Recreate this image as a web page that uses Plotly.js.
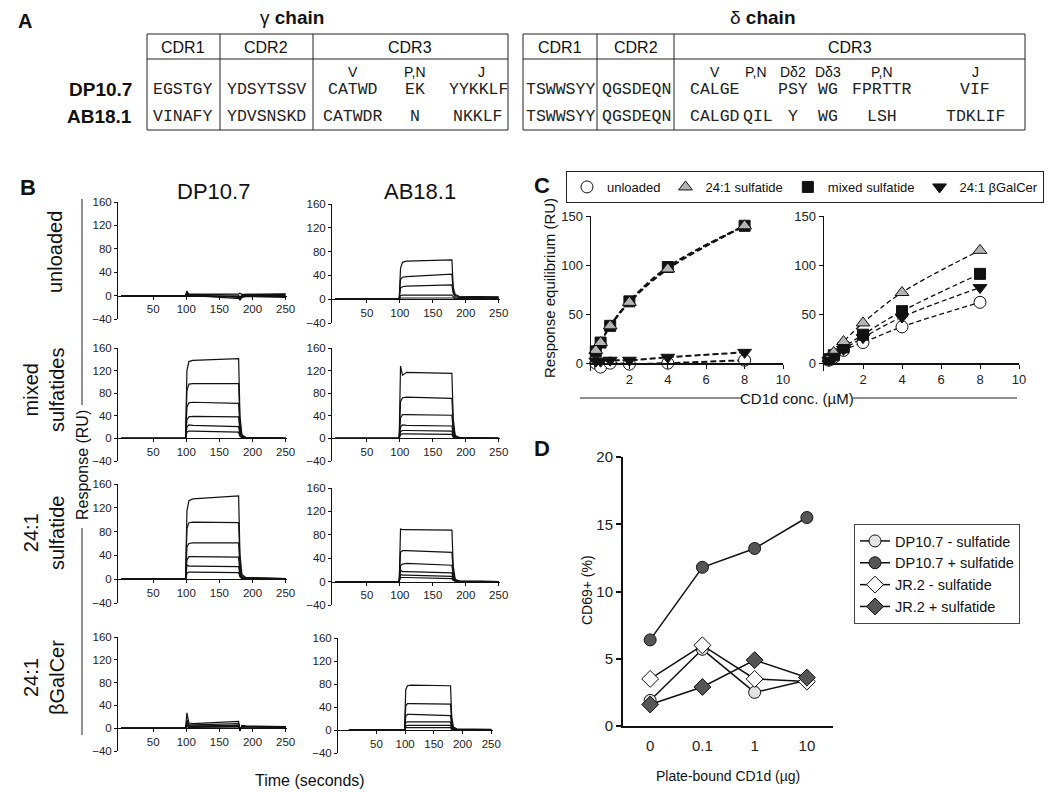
<!DOCTYPE html>
<html><head><meta charset="utf-8">
<script src="https://cdn.plot.ly/plotly-3.0.1.min.js"></script>
<style>html,body{margin:0;padding:0;background:#fff}#chart{width:1050px;height:793px}</style>
</head><body><div id="chart"></div>
<script>
// ---------------- DATA ----------------
// Panel A: CDR sequences
const gammaHeaders = ['CDR1', 'CDR2', 'CDR3'];
const gammaSub = ['V', 'P,N', 'J'];
const gammaDP = ['EGSTGY', 'YDSYTSSV', 'CATWD', 'EK', 'YYKKLF'];
const gammaAB = ['VINAFY', 'YDVSNSKD', 'CATWDR', 'N', 'NKKLF'];
const deltaHeaders = ['CDR1', 'CDR2', 'CDR3'];
const deltaSub = ['V', 'P,N', 'Dδ2', 'Dδ3', 'P,N', 'J'];
const deltaDP = ['TSWWSYY', 'QGSDEQN', 'CALGE', '', 'PSY', 'WG', 'FPRTTR', 'VIF'];
const deltaAB = ['TSWWSYY', 'QGSDEQN', 'CALGD', 'QIL', 'Y', 'WG', 'LSH', 'TDKLIF'];
const clones = ['DP10.7', 'AB18.1'];

// Panel B: sensorgrams (RU) sampled at bTime (s)
const bTime = [2, 99, 101, 104, 110, 179, 181, 184, 190, 250];
const dpUnloaded = [
  [0, 0, 8, 2, 2, 1, -6, -2, -1, -3],
  [0, 0, 5, 1, 1, -3, -8, -3, -2, -2],
  [0, 0, 3, 1, 0, -5, -5, 1, 2, 2],
  [0, 0, 2, 2, 2, 3, 4, 2, 2, 3],
  [0, 0, 1, 0, 0, -1, -2, 0, 0, 0]
];
const abUnloaded = [
  [0, 0, 52, 62, 64, 66, 20, 8, 5, 4],
  [0, 0, 33, 37, 38, 42, 14, 6, 4, 3],
  [0, 0, 19, 21, 22, 24, 9, 4, 3, 2],
  [0, 0, 6, 7, 7, 7, 4, 2, 1, 1],
  [0, 0, 2, 2, 2, 3, 2, 1, 1, 0]
];
const dpMixed = [
  [0, 0, 120, 136, 138, 141, 40, 6, 2, 0],
  [0, 0, 85, 96, 97, 97, 28, 4, 1, 0],
  [0, 0, 55, 63, 64, 62, 18, 3, 1, 0],
  [0, 0, 33, 38, 39, 38, 11, 2, 1, 0],
  [0, 0, 20, 24, 23, 21, 7, 2, 1, 0],
  [0, 0, 11, 13, 13, 11, 4, 1, 0, 0]
];
const abMixed = [
  [0, 0, 128, 112, 117, 115, 35, 5, 2, 0],
  [0, 0, 65, 72, 73, 71, 22, 3, 1, 0],
  [0, 0, 36, 42, 42, 41, 12, 2, 1, 0],
  [0, 0, 20, 24, 23, 22, 7, 1, 1, 0],
  [0, 0, 12, 14, 14, 13, 4, 1, 0, 0],
  [0, 0, 7, 8, 8, 7, 2, 1, 0, 0]
];
const dp241 = [
  [0, 0, 115, 132, 135, 140, 42, 8, 3, 1],
  [0, 0, 85, 95, 96, 95, 29, 5, 2, 1],
  [0, 0, 54, 60, 61, 61, 18, 3, 1, 0],
  [0, 0, 32, 38, 38, 37, 11, 2, 1, 0],
  [0, 0, 24, 22, 22, 21, 7, 2, 1, 0],
  [0, 0, 10, 12, 12, 11, 4, 1, 0, 0]
];
const ab241 = [
  [0, 0, 90, 89, 89, 88, 27, 4, 1, 0],
  [0, 0, 50, 53, 53, 50, 15, 3, 1, 0],
  [0, 0, 27, 30, 31, 28, 9, 2, 1, 0],
  [0, 0, 20, 17, 17, 15, 5, 1, 0, 0],
  [0, 0, 12, 11, 11, 9, 3, 1, 0, 0],
  [0, 0, 7, 7, 7, 5, 2, 1, 0, 0]
];
const dpGalCer = [
  [0, 0, 27, 9, 8, 12, -5, 5, 4, 3],
  [0, 0, 15, 6, 6, 8, -4, 4, 3, 3],
  [0, 0, 10, 4, 4, 5, -3, 3, 3, 2],
  [0, 0, 6, 3, 3, 3, -2, 2, 2, 1],
  [0, 0, 3, 1, 1, 1, 0, 1, 1, 0]
];
const abGalCer = [
  [0, 0, 70, 77, 78, 77, 24, 5, 2, 1],
  [0, 0, 42, 46, 46, 45, 14, 3, 1, 0],
  [0, 0, 24, 27, 27, 25, 8, 2, 1, 0],
  [0, 0, 13, 14, 14, 14, 4, 1, 0, 0],
  [0, 0, 7, 8, 8, 8, 3, 1, 0, 0],
  [0, 0, 4, 4, 4, 4, 1, 1, 0, 0]
];
const bColumns = ['DP10.7', 'AB18.1'];
const bRows = ['unloaded', 'mixed<br>sulfatides', '24:1<br>sulfatide', '24:1<br>βGalCer'];
const bXTicks = [50, 100, 150, 200, 250];
const bYTicks = [-40, 0, 40, 80, 120, 160];

// Panel C: equilibrium response (RU) vs CD1d conc (µM)
const cConc = [0.25, 0.5, 1, 2, 4, 8];
const cNames = ['unloaded', '24:1 sulfatide', 'mixed sulfatide', '24:1 βGalCer'];
const dpUnloadedEq = [0, -4, 0, -1, 0, 3];
const dp241Eq = [13, 21, 38, 62, 96, 140];
const dpMixedEq = [12, 21, 38, 63, 98, 140];
const dpGalCerEq = [2, 2, 3, 3, 6, 11];
const abUnloadedEq = [3, 6, 13, 21, 37, 62];
const ab241Eq = [5, 11, 22, 41, 72, 115];
const abMixedEq = [4, 8, 16, 29, 53, 91];
const abGalCerEq = [3, 7, 14, 26, 47, 77];
const cXTicks = [2, 4, 6, 8, 10];
const cYTicks = [0, 50, 100, 150];

// Panel D: CD69+ (%)
const dDoses = ['0', '0.1', '1', '10'];
const dNames = ['DP10.7 - sulfatide', 'DP10.7 + sulfatide', 'JR.2 - sulfatide', 'JR.2 + sulfatide'];
const dpMinus = [1.9, 5.7, 2.5, 3.4];
const dpPlus = [6.4, 11.8, 13.2, 15.5];
const jrMinus = [3.5, 6.0, 3.5, 3.3];
const jrPlus = [1.6, 2.9, 4.9, 3.6];
const dYTicks = [0, 5, 10, 15, 20];

// ---------------- LAYOUT HELPERS ----------------
const W = 1050, H = 793;
const SANS = 'Liberation Sans, Arial, sans-serif';
const MONO = 'Liberation Mono, Courier New, monospace';
const px = x => x / W;
const py = y => 1 - y / H;
const dX = (a, b) => [px(a), px(b)];
const dY = (top, bottom) => [py(bottom), py(top)];

const traces = [];
const layout = {
  width: W, height: H,
  margin: {l: 0, r: 0, t: 0, b: 0},
  paper_bgcolor: '#fff', plot_bgcolor: 'rgba(0,0,0,0)',
  showlegend: true,
  font: {family: SANS, color: '#111'},
  annotations: [], shapes: []
};
function ann(text, x, y, size, extra) {
  layout.annotations.push(Object.assign({
    text: text, x: px(x), y: py(y), xref: 'paper', yref: 'paper',
    showarrow: false, xanchor: 'center', yanchor: 'middle',
    font: {family: SANS, size: size, color: '#111'}
  }, extra || {}));
}
function line(x0, y0, x1, y1, w, c) {
  layout.shapes.push({type: 'line', xref: 'paper', yref: 'paper',
    x0: px(x0), y0: py(y0), x1: px(x1), y1: py(y1),
    line: {color: c || '#222', width: w || 1}});
}

// ---------------- PANEL A ----------------
ann('<b>A</b>', 25, 21, 20);
ann('γ <b>chain</b>', 292, 17, 19);
ann('δ <b>chain</b>', 762, 17, 19);
const gT = 34, gDiv = 59, gB = 130;
[[147, 508, [220, 313]], [523, 1025, [597, 674]]].forEach(t => {
  layout.shapes.push({type: 'rect', xref: 'paper', yref: 'paper',
    x0: px(t[0]), x1: px(t[1]), y0: py(gB), y1: py(gT), line: {color: '#222', width: 1}});
  line(t[0], gDiv, t[1], gDiv);
  t[2].forEach(v => line(v, gT, v, gB));
});
const gCols = [183, 266, 410];
gammaHeaders.forEach((h, i) => ann(h, gCols[i], 47, 16));
const dCols = [560, 636, 850];
deltaHeaders.forEach((h, i) => ann(h, dCols[i], 47, 16));
const gSubX = [353, 415, 481];
gammaSub.forEach((h, i) => ann(h, gSubX[i], 72, 14));
const dSubX = [715, 756, 793, 828, 882, 975];
deltaSub.forEach((h, i) => ann(h, dSubX[i], 72, 14));
const gSeqX = [183, 266, 353, 415, 478];
const dSeqX = [560, 636, 715, 758, 793, 828, 882, 975];
const rowY = [90, 117];
const seqFont = {family: MONO, size: 16.5, color: '#222'};
[gammaDP, gammaAB].forEach((row, r) => row.forEach((s, i) =>
  ann(s, gSeqX[i], rowY[r], 16.5, {font: seqFont})));
[deltaDP, deltaAB].forEach((row, r) => row.forEach((s, i) => {
  if (s) ann(s, dSeqX[i], rowY[r], 16.5, {font: seqFont});
}));
clones.forEach((c, r) => ann('<b>' + c + '</b>', 134, rowY[r], 19, {xanchor: 'right'}));

// ---------------- PANEL B ----------------
const bPanels = [dpUnloaded, abUnloaded, dpMixed, abMixed, dp241, ab241, dpGalCer, abGalCer];
const bXDom = [[118, 287], [332, 500], [118, 287], [332, 500], [118, 287], [332, 500], [118, 287], [338, 493]];
const bYDom = [[202, 319], [204, 323], [348, 461], [348, 461], [484, 603], [488, 605], [637, 751], [638, 753]];
bPanels.forEach((curves, i) => {
  const n = i + 1;
  curves.forEach(c => traces.push({
    x: bTime, y: c, xaxis: 'x' + n, yaxis: 'y' + n, type: 'scatter', mode: 'lines',
    line: {color: '#111', width: 1.2}, showlegend: false, hoverinfo: 'skip'
  }));
  const [top, bot] = bYDom[i];
  const zeroPix = top + (160 / 200) * (bot - top);
  layout['xaxis' + n] = {
    domain: dX(bXDom[i][0], bXDom[i][1]), range: n === 8 ? [-17, 253] : [-3, 252],
    anchor: 'free', position: py(zeroPix), showline: true, linecolor: '#111', linewidth: 1,
    ticks: 'outside', ticklen: 3, tickcolor: '#111', tickvals: bXTicks,
    tickfont: {size: 11.5, family: SANS, color: '#222'}, showgrid: false, zeroline: false
  };
  layout['yaxis' + n] = {
    domain: dY(top, bot), range: [-40, 160], anchor: 'x' + n,
    showline: true, linecolor: '#111', linewidth: 1, ticks: 'outside', ticklen: 3,
    tickcolor: '#111', tickvals: bYTicks, tickfont: {size: 11.5, family: SANS, color: '#222'},
    showgrid: false, zeroline: false
  };
});
ann('<b>B</b>', 28, 187, 22);
ann(bColumns[0], 213, 191, 22);
ann(bColumns[1], 420, 191, 22);
const bRowY = [252, 390, 533, 678];
const bRowX = [55, 44, 44, 44];
bRows.forEach((r, i) => ann(r, bRowX[i], bRowY[i], 20, {textangle: -90}));
line(82, 199, 82, 405);
line(82, 528, 82, 735);
ann('Response (RU)', 82, 465, 16, {textangle: -90});
ann('Time (seconds)', 310, 780, 16);

// ---------------- PANEL C ----------------
const cAx = [{n: 9, dom: [591, 783]}, {n: 10, dom: [824, 1019]}];
const cSets = [
  [dpUnloadedEq, dp241Eq, dpMixedEq, dpGalCerEq],
  [abUnloadedEq, ab241Eq, abMixedEq, abGalCerEq]
];
const cSym = [
  {symbol: 'circle', color: '#fff'},
  {symbol: 'triangle-up', color: '#b4b4b4'},
  {symbol: 'square', color: '#111'},
  {symbol: 'triangle-down', color: '#111'}
];
const cDrawOrder = [0, 2, 1, 3];
cSets.forEach((set, k) => {
  const ax = cAx[k];
  set.forEach(vals => traces.push({
    x: cConc, y: vals, xaxis: 'x' + ax.n, yaxis: 'y' + ax.n, type: 'scatter', mode: 'lines',
    line: {color: '#111', width: k === 0 ? 2 : 1.3, dash: k === 0 ? '6px,3px' : '5px,3px', shape: 'spline', smoothing: 1},
    showlegend: false, hoverinfo: 'skip'
  }));
  cDrawOrder.forEach(j => traces.push({
    x: cConc, y: set[j], xaxis: 'x' + ax.n, yaxis: 'y' + ax.n, type: 'scatter', mode: 'markers',
    name: cNames[j], legend: 'legend', legendrank: j + 1, showlegend: k === 0,
    marker: {symbol: cSym[j].symbol, color: cSym[j].color, size: j === 2 ? 11 : 12,
      line: {color: '#111', width: 1}},
    cliponaxis: false, hoverinfo: 'skip'
  }));
  layout['xaxis' + ax.n] = {
    domain: dX(ax.dom[0], ax.dom[1]), range: [0, 10], anchor: 'free', position: py(363),
    showline: true, linecolor: '#111', linewidth: 1.5, ticks: 'outside', ticklen: 4,
    tickcolor: '#111', tickvals: cXTicks, tickfont: {size: 13, family: SANS, color: '#222'},
    showgrid: false, zeroline: false
  };
  layout['yaxis' + ax.n] = {
    domain: dY(216, 371), range: [-8, 150], anchor: 'x' + ax.n,
    showline: true, linecolor: '#111', linewidth: 1.5, ticks: 'outside', ticklen: 4,
    tickcolor: '#111', tickvals: cYTicks, tickfont: {size: 13, family: SANS, color: '#222'},
    showgrid: false, zeroline: false
  };
});
ann('<b>C</b>', 542, 185, 22);
ann('Response equilibrium (RU)', 549, 288, 15, {textangle: -90});
ann('CD1d conc. (µM)', 797, 398, 15);
line(580, 398, 742, 398);
line(853, 398, 1017, 398);
layout.legend = {
  orientation: 'h', x: px(566), y: py(171), xanchor: 'left', yanchor: 'top',
  bordercolor: '#222', borderwidth: 1, bgcolor: '#fff',
  font: {size: 13, family: SANS, color: '#111'}, traceorder: 'normal', itemclick: false
};

// ---------------- PANEL D ----------------
const dSets = [dpMinus, dpPlus, jrMinus, jrPlus];
const dSym = [
  {symbol: 'circle', color: '#e3e3e3', size: 12},
  {symbol: 'circle', color: '#555', size: 12},
  {symbol: 'diamond', color: '#fff', size: 13},
  {symbol: 'diamond', color: '#555', size: 13}
];
dSets.forEach((vals, j) => traces.push({
  x: dDoses, y: vals, xaxis: 'x11', yaxis: 'y11', type: 'scatter', mode: 'lines+markers',
  name: dNames[j], legend: 'legend2',
  line: {color: '#111', width: 1.5},
  marker: {symbol: dSym[j].symbol, color: dSym[j].color, size: dSym[j].size, line: {color: '#111', width: 1}},
  cliponaxis: false, hoverinfo: 'skip'
}));
layout.xaxis11 = {
  domain: dX(623, 833), type: 'category', categoryarray: dDoses, range: [-0.52, 3.5],
  anchor: 'y11', showline: true, linecolor: '#111', linewidth: 2,
  ticks: 'outside', ticklen: 5, tickcolor: 'rgba(0,0,0,0)',
  tickfont: {size: 15, family: SANS, color: '#222'}, showgrid: false, zeroline: false
};
layout.yaxis11 = {
  domain: dY(457, 726), range: [0, 20], anchor: 'x11',
  showline: true, linecolor: '#111', linewidth: 2, ticks: 'outside', ticklen: 5, tickwidth: 2,
  tickcolor: '#111', tickvals: dYTicks, tickfont: {size: 15, family: SANS, color: '#222'},
  showgrid: false, zeroline: false
};
layout.legend2 = {
  x: px(854), y: py(524), xanchor: 'left', yanchor: 'top',
  bordercolor: '#444', borderwidth: 1, bgcolor: '#fff',
  font: {size: 14.5, family: SANS, color: '#111'}, traceorder: 'normal', itemclick: false
};
ann('<b>D</b>', 542, 448, 22);
ann('CD69+ (%)', 587, 590, 14, {textangle: -90});
ann('Plate-bound CD1d (µg)', 728, 776, 14);

Plotly.newPlot('chart', traces, layout, {staticPlot: true, displayModeBar: false});
</script></body></html>
